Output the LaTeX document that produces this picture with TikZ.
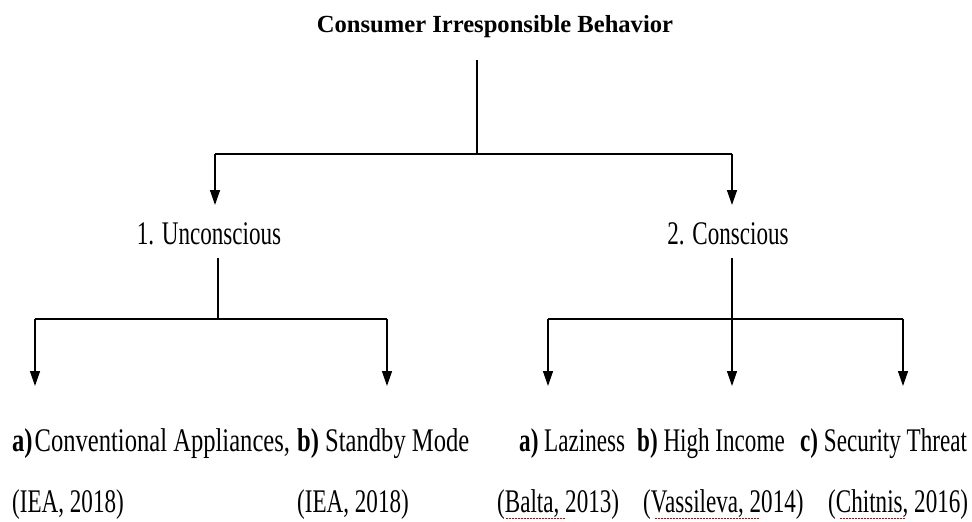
\documentclass[tikz,border=0pt]{standalone}
\usepackage{fontspec}
\setmainfont{Liberation Serif}
\newfontfamily\bodyfont[FakeStretch=0.70]{Liberation Serif}
\newfontfamily\bodyfontw[FakeStretch=0.745]{Liberation Serif}
\usetikzlibrary{arrows.meta}
\begin{document}
\begin{tikzpicture}[x=1pt,y=-1pt,
  conn/.style={line width=1.4pt,black},
  arr/.style={conn,-{Triangle[width=10pt,length=15pt]}},
  lbl/.style={inner sep=0pt,anchor=base west,font=\bodyfont\fontsize{33}{33}\selectfont},
  lblw/.style={lbl,font=\bodyfontw\fontsize{33}{33}\selectfont},
  ttl/.style={inner sep=0pt,anchor=base,font=\fontsize{24.6}{24.6}\selectfont\bfseries},
  spell/.style={red!85!black,line width=1pt,dash pattern=on 1.5pt off 1.5pt}]
\useasboundingbox (0,0) rectangle (972,522);
\node[ttl] (title) at (495,32) {Consumer Irresponsible Behavior};
\coordinate (t0) at (477,60);
\coordinate (t1) at (477,154);
\coordinate (tl) at (215,154);
\coordinate (tr) at (732,154);
\coordinate (al) at (215,205);
\coordinate (ar) at (732,205);
\draw[conn] (t0) -- (t1);
\draw[conn] (tl) -- (tr);
\draw[arr] (tl) -- (al);
\draw[arr] (tr) -- (ar);
\node[lbl,anchor=base] (unc) at (209,244) {1. Unconscious};
\node[lbl,anchor=base] (con) at (728,244) {2. Conscious};
% left branch
\coordinate (u0) at (218,258);
\coordinate (u1) at (218,319);
\coordinate (ul) at (35,319);
\coordinate (ur) at (387,319);
\coordinate (ula) at (35,386);
\coordinate (ura) at (387,386);
\draw[conn] (u0) -- (u1);
\draw[conn] (ul) -- (ur);
\draw[arr] (ul) -- (ula);
\draw[arr] (ur) -- (ura);
% right branch
\coordinate (c0) at (732,258);
\coordinate (cl) at (548,319);
\coordinate (cr) at (903,319);
\coordinate (cla) at (548,386);
\coordinate (cma) at (732,386);
\coordinate (cra) at (903,386);
\draw[conn] (cl) -- (cr);
\draw[arr] (c0) -- (cma);
\draw[arr] (cl) -- (cla);
\draw[arr] (cr) -- (cra);
% labels
\node[lblw] (la) at (12,451) {\textbf{a)}\kern2pt Conventional Appliances,};
\node[lblw] (lb) at (297,451) {\textbf{b)} Standby Mode};
\node[lbl] (ra) at (519,451) {\textbf{a)} Laziness};
\node[lbl] (rb) at (637,451) {\textbf{b)} High Income};
\node[lbl] (rc) at (800,451) {\textbf{c)} Security Threat};
\node[lbl] (c1) at (12,512) {(IEA, 2018)};
\node[lbl] (c2) at (297,512) {(IEA, 2018)};
\node[lbl] (c3) at (497,512) {(Balta, 2013)};
\node[lbl] (c4) at (643,512) {(Vassileva, 2014)};
\node[lbl] (c5) at (828,512) {(Chitnis, 2016)};
\draw[spell] (506,518) -- (566,518);
\draw[spell] (655,518) -- (760,518);
\draw[spell] (840,518) -- (906,518);
\end{tikzpicture}
\end{document}
